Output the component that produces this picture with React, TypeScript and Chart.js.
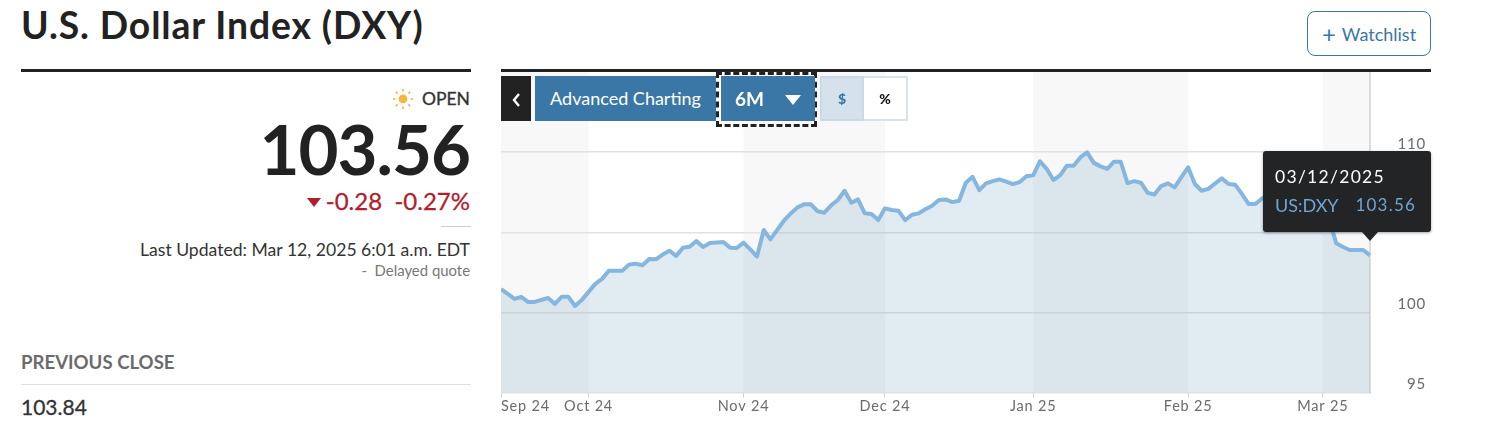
import React, { useEffect, useRef } from "react";
import { Chart, registerables } from "chart.js";

Chart.register(...registerables);

const dxyValues = [
  101.45, 101.15, 100.84, 100.97, 100.65, 100.65, 100.78, 100.9, 100.53, 100.97,
  100.97, 100.4, 100.78, 101.28, 101.78, 102.09, 102.59, 102.59, 102.6, 102.98,
  103.04, 102.94, 103.33, 103.31, 103.61, 103.85, 103.52, 104.04, 104.1, 104.45,
  104.08, 104.33, 104.36, 104.39, 104.04, 104.02, 104.35, 103.93, 103.48, 105.14,
  104.56, 105.14, 105.72, 106.17, 106.55, 106.74, 106.74, 106.31, 106.22, 106.68,
  107.01, 107.59, 106.84, 107.05, 106.18, 106.14, 105.76, 106.49, 106.39, 106.34,
  105.76, 106.09, 106.18, 106.43, 106.65, 107.01, 107.05, 106.88, 106.97, 108.09,
  108.46, 107.63, 108.05, 108.19, 108.3, 108.16, 108.01, 108.13, 108.5, 108.55,
  109.42, 108.96, 108.26, 108.55, 109.15, 109.15, 109.67, 109.98, 109.33, 109.11,
  108.96, 109.4, 109.4, 108.07, 108.19, 108.09, 107.46, 107.36, 107.88, 108.05,
  107.8, 108.44, 109.05, 108.01, 107.59, 107.71, 108.04, 108.36, 108.01, 107.96,
  107.38, 106.76, 106.76, 107.12, 107.3, 107.4, 107.2, 107.1, 107.0, 106.9,
  107.0, 107.1, 106.6, 105.7, 104.31, 104.08, 103.89, 103.89, 103.89, 103.56,
];
const sessionLabels = dxyValues.map((_, i) => String(i));
const monthStarts = [0, 13, 36, 57, 79, 102, 122];
const monthLabels = ["Sep 24", "Oct 24", "Nov 24", "Dec 24", "Jan 25", "Feb 25", "Mar 25"];
const yTicks = [95, 100, 105, 110];

const BLUE = "#3b77a6";
const FONT = "Lato, sans-serif";

const chartDecor = {
  id: "chartDecor",
  beforeDraw(chart: any) {
    const { ctx, chartArea, scales } = chart;
    const x = scales.x;
    ctx.letterSpacing = "0.8px";
    const last = dxyValues.length - 1;
    ctx.save();
    ctx.fillStyle = "#f8f8f8";
    monthStarts.forEach((start, i) => {
      if (i % 2 !== 0) return;
      const end = i + 1 < monthStarts.length ? monthStarts[i + 1] : last;
      const a = x.getPixelForValue(start);
      const b = x.getPixelForValue(end);
      ctx.fillRect(a, chartArea.top, b - a, chartArea.bottom - chartArea.top);
    });
    ctx.restore();
    const items = x.getLabelItems();
    if (items[0]) items[0].options.textAlign = "left";
  },
  afterDatasetsDraw(chart: any) {
    const { ctx, chartArea, scales } = chart;
    const px = scales.x.getPixelForValue(dxyValues.length - 1);
    ctx.save();
    ctx.strokeStyle = "#b9bdc0";
    ctx.lineWidth = 1;
    ctx.beginPath();
    ctx.moveTo(px, chartArea.top);
    ctx.lineTo(px, chartArea.bottom + 1);
    ctx.stroke();
    ctx.restore();
  },
};

function Box({ style, children }: { style: React.CSSProperties; children?: React.ReactNode }) {
  return <div style={{ position: "absolute", whiteSpace: "nowrap", ...style }}>{children}</div>;
}

export default function App() {
  const ref = useRef<HTMLCanvasElement>(null);

  useEffect(() => {
    document.body.style.margin = "0";
    document.body.style.overflow = "hidden";
    const chart = new Chart(ref.current as HTMLCanvasElement, {
      type: "line",
      data: {
        labels: sessionLabels,
        datasets: [
          {
            label: "US:DXY",
            data: dxyValues,
            borderColor: "#85b6e0",
            borderWidth: 4,
            backgroundColor: "rgba(105,155,190,0.2)",
            fill: "start",
            pointRadius: 0,
            tension: 0,
            borderJoinStyle: "round",
          },
        ],
      },
      options: {
        animation: false,
        responsive: false,
        layout: { padding: 0 },
        plugins: { legend: { display: false }, tooltip: { enabled: false } },
        scales: {
          x: {
            type: "category",
            offset: false,
            afterBuildTicks(s: any) {
              s.ticks = monthStarts.map((v, i) => ({ value: v, label: monthLabels[i] }));
            },
            afterFit(s: any) {
              s.height = 29.5;
              s.paddingLeft = 0;
              s.paddingRight = 0;
            },
            grid: { drawOnChartArea: false, tickLength: 5, color: "#cfd3d6" },
            border: { color: "#e2e4e6" },
            ticks: {
              autoSkip: false,
              maxRotation: 0,
              minRotation: 0,
              padding: 0,
              color: "#6b6b6b",
              font: { family: FONT, size: 14.5 },
              callback(_v: any, i: number) {
                return monthLabels[i];
              },
            },
          },
          y: {
            position: "right",
            min: 95,
            max: 115,
            afterBuildTicks(s: any) {
              s.ticks = yTicks.map((v) => ({ value: v }));
            },
            afterFit(s: any) {
              s.width = 56;
              s.paddingTop = 0;
              s.paddingBottom = 0;
            },
            grid: { color: "#e0e2e4", lineWidth: 1.5, drawTicks: false },
            border: { display: false },
            ticks: {
              crossAlign: "far",
              labelOffset: -8,
              padding: 0,
              color: "#6b6b6b",
              font: { family: FONT, size: 15 },
            },
          },
        },
      },
      plugins: [chartDecor],
    } as any);
    return () => chart.destroy();
  }, []);

  const rays = [0, 45, 90, 135, 180, 225, 270, 315];

  return (
    <div style={{ position: "relative", width: 1486, height: 439, overflow: "hidden", background: "#fff", fontFamily: FONT, color: "#222" }}>
      <Box style={{ left: 21, top: 3, fontSize: 37.3, fontWeight: 700, letterSpacing: 0.9, lineHeight: "44px", color: "#222" }}>
        U.S. Dollar Index (DXY)
      </Box>
      <Box style={{ left: 1307, top: 11, width: 122, height: 43, border: `1px solid ${BLUE}`, borderRadius: 8, textAlign: "center", lineHeight: "43px", fontSize: 18, color: BLUE }}>
        <span style={{ fontSize: 24, verticalAlign: -2, marginRight: 6 }}>+</span>Watchlist
      </Box>
      <Box style={{ left: 21, top: 69, width: 450, height: 3, background: "#222" }} />
      <Box style={{ left: 501, top: 69, width: 930, height: 3, background: "#222" }} />

      <Box style={{ left: 393, top: 89, width: 20, height: 20 }}>
        <svg width="20" height="20" viewBox="0 0 20 20">
          <circle cx="10" cy="10" r="4.4" fill="#f6b53c" />
          {rays.map((r) => (
            <line key={r} x1="10" y1="2.4" x2="10" y2="0" stroke="#f6b53c" strokeWidth="1.6" transform={`rotate(${r} 10 10)`} />
          ))}
        </svg>
      </Box>
      <Box style={{ right: 1016, top: 89, fontSize: 17.5, fontWeight: 400, lineHeight: "20px", color: "#333", WebkitTextStroke: "0.3px #333" }}>OPEN</Box>
      <Box style={{ right: 1016, top: 105, fontSize: 69, fontWeight: 700, lineHeight: "88px", letterSpacing: -1, color: "#222" }}>103.56</Box>
      <Box style={{ right: 1016, top: 187, fontSize: 24, fontWeight: 400, lineHeight: "28px", color: "#b01e2e", WebkitTextStroke: "0.3px #b01e2e" }}>
        <span style={{ display: "inline-block", width: 0, height: 0, borderLeft: "7px solid transparent", borderRight: "7px solid transparent", borderTop: "9px solid #b01e2e", marginRight: 5, verticalAlign: 3 }} />
        -0.28&nbsp;&nbsp;-0.27%
      </Box>
      <Box style={{ left: 441, top: 226, width: 30, height: 1, background: "#cfcfcf" }} />
      <Box style={{ right: 1016, top: 240, fontSize: 17.6, lineHeight: "20px", color: "#333" }}>Last Updated: Mar 12, 2025 6:01 a.m. EDT</Box>
      <Box style={{ right: 1016, top: 262, fontSize: 14.9, lineHeight: "16px", color: "#777" }}>-&nbsp; Delayed quote</Box>
      <Box style={{ left: 21, top: 352, fontSize: 18.6, fontWeight: 700, lineHeight: "20px", color: "#6b6b6b" }}>PREVIOUS CLOSE</Box>
      <Box style={{ left: 21, top: 384, width: 450, height: 1, background: "#dfdfdf" }} />
      <Box style={{ left: 21, top: 395, fontSize: 21, fontWeight: 400, lineHeight: "24px", color: "#333", WebkitTextStroke: "0.3px #333" }}>103.84</Box>

      <canvas ref={ref} width={925} height={350} style={{ position: "absolute", left: 501, top: 72, width: 925, height: 350 }} />

      <Box style={{ left: 501, top: 76, width: 30, height: 45, background: "#222" }}>
        <svg width="30" height="45" viewBox="0 0 30 45">
          <path d="M18 18 L13 24 L18 30" fill="none" stroke="#fff" strokeWidth="2.4" />
        </svg>
      </Box>
      <Box style={{ left: 535, top: 76, width: 181, height: 45, background: BLUE, color: "#fff", fontSize: 18, lineHeight: "45px", textAlign: "center" }}>Advanced Charting</Box>
      <Box style={{ left: 716, top: 72, width: 95, height: 49, border: "3px dashed #222", background: "#fff" }} />
      <Box style={{ left: 721, top: 76, width: 94, height: 45, background: BLUE, color: "#fff", fontSize: 19, fontWeight: 700, lineHeight: "45px" }}>
        <span style={{ position: "absolute", left: 14 }}>6M</span>
        <span style={{ position: "absolute", left: 64, top: 19, width: 0, height: 0, borderLeft: "8px solid transparent", borderRight: "8px solid transparent", borderTop: "10px solid #fff" }} />
      </Box>
      <Box style={{ left: 820, top: 76, width: 44, height: 45, boxSizing: "border-box", border: "2px solid #c9d9e6", background: "#d5e2ee", color: BLUE, fontSize: 14, fontWeight: 900, lineHeight: "41px", textAlign: "center" }}>$</Box>
      <Box style={{ left: 864, top: 76, width: 44, height: 45, boxSizing: "border-box", border: "2px solid #d8e3ec", borderLeft: "none", background: "#fff", color: "#111", fontSize: 14, fontWeight: 900, lineHeight: "41px", textAlign: "center" }}>%</Box>

      <Box style={{ left: 1263, top: 151, width: 168, height: 81, background: "#222426", borderRadius: 3, boxShadow: "0 1px 3px rgba(0,0,0,0.35)" }}>
        <span style={{ position: "absolute", left: 12, top: 15, fontSize: 17.5, lineHeight: "22px", letterSpacing: 1.3, color: "#fff" }}>03/12/2025</span>
        <span style={{ position: "absolute", left: 12, top: 43, fontSize: 18, lineHeight: "22px", color: "#6fa5d3" }}>US:DXY</span>
        <span style={{ position: "absolute", right: 15, top: 43, fontSize: 17, lineHeight: "22px", letterSpacing: 1.2, color: "#6fa5d3" }}>103.56</span>
        <span style={{ position: "absolute", left: 99, top: 81, width: 0, height: 0, borderLeft: "8px solid transparent", borderRight: "8px solid transparent", borderTop: "9px solid #222426" }} />
      </Box>
    </div>
  );
}
